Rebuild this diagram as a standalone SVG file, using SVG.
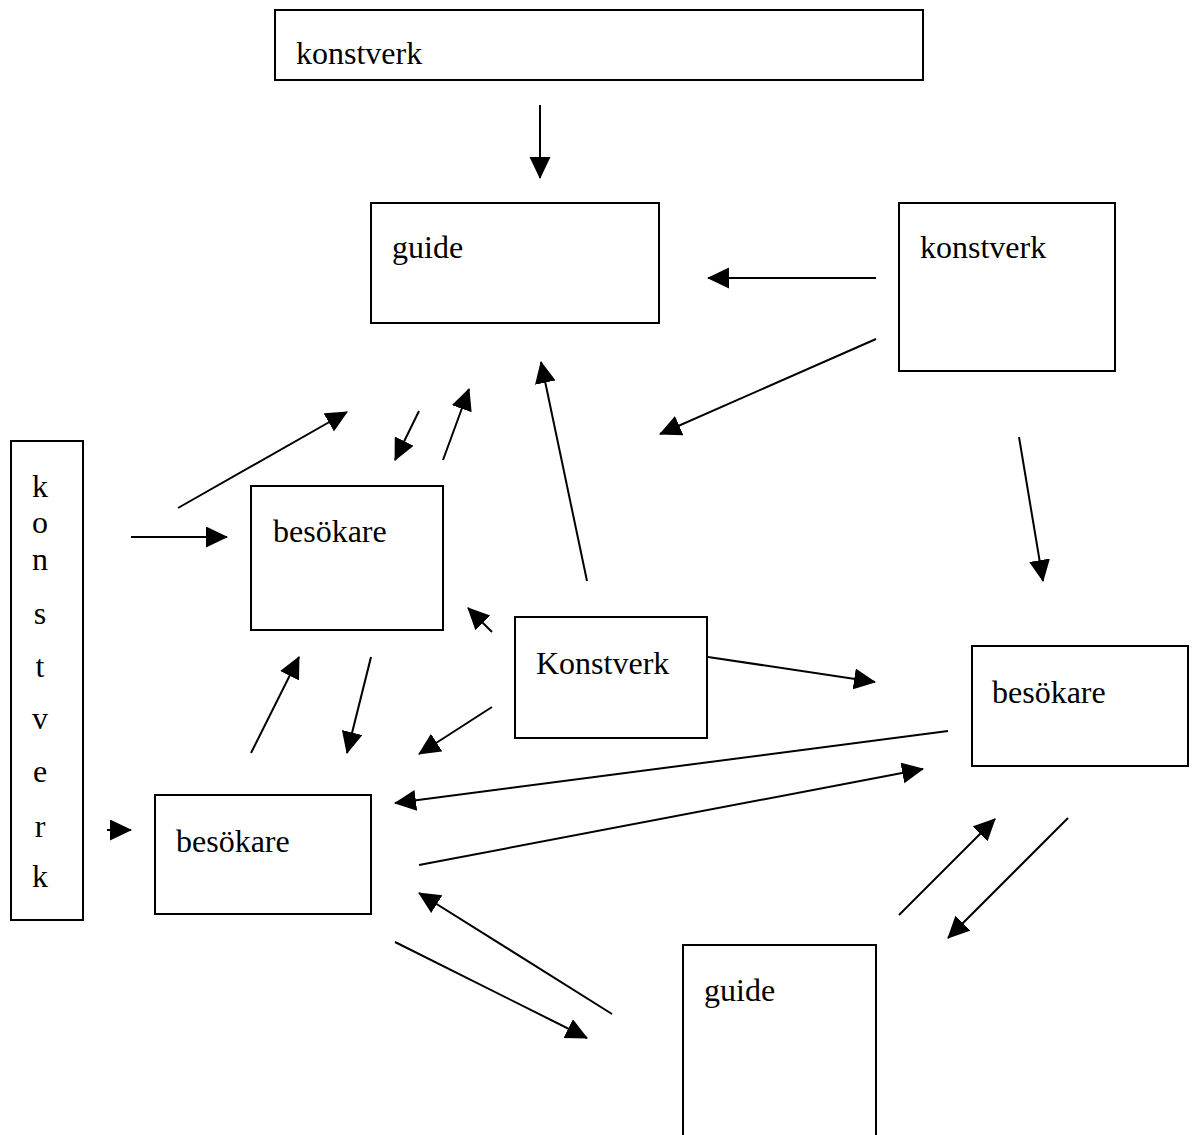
<svg xmlns="http://www.w3.org/2000/svg" width="1192" height="1135" viewBox="0 0 1192 1135">
<style>
.box{fill:#fff;stroke:#000;stroke-width:2}
.t{font-family:'Liberation Serif','Times New Roman',Times,serif;font-size:32px;fill:#000}
.c line{stroke:#000;stroke-width:2;marker-end:url(#ah)}
</style>
<defs>
<marker id="ah" markerUnits="userSpaceOnUse" markerWidth="23" markerHeight="22" refX="21" refY="10.5" orient="auto" viewBox="0 0 23 22">
<path d="M0,0 L22,10.5 L0,21 z" fill="#000"/>
</marker>
</defs>
<rect width="1192" height="1135" fill="#fff"/>
<g id="n-konstverk-top"><rect class="box" x="275" y="10" width="648" height="70"/><text class="t" font-family="Liberation Serif, serif" x="296" y="64">konstverk</text></g>
<g id="n-guide-top"><rect class="box" x="371" y="203" width="288" height="120"/><text class="t" font-family="Liberation Serif, serif" x="392" y="258">guide</text></g>
<g id="n-konstverk-right"><rect class="box" x="899" y="203" width="216" height="168"/><text class="t" font-family="Liberation Serif, serif" x="920" y="258">konstverk</text></g>
<g id="n-konstverk-vertical"><rect class="box" x="11" y="441" width="72" height="479"/>
<text class="t" font-family="Liberation Serif, serif" text-anchor="middle">
<tspan x="40" y="497">k</tspan><tspan x="40" y="533">o</tspan><tspan x="40" y="570">n</tspan><tspan x="40" y="624">s</tspan><tspan x="40" y="677">t</tspan><tspan x="40" y="729">v</tspan><tspan x="40" y="782">e</tspan><tspan x="40" y="837">r</tspan><tspan x="40" y="887">k</tspan>
</text></g>
<g id="n-besokare-top"><rect class="box" x="251" y="486" width="192" height="144"/><text class="t" font-family="Liberation Serif, serif" x="273" y="542">besökare</text></g>
<g id="n-konstverk-mid"><rect class="box" x="515" y="617" width="192" height="121"/><text class="t" font-family="Liberation Serif, serif" x="536" y="674">Konstverk</text></g>
<g id="n-besokare-right"><rect class="box" x="972" y="646" width="216" height="120"/><text class="t" font-family="Liberation Serif, serif" x="992" y="703">besökare</text></g>
<g id="n-besokare-left"><rect class="box" x="155" y="795" width="216" height="119"/><text class="t" font-family="Liberation Serif, serif" x="176" y="852">besökare</text></g>
<g id="n-guide-bottom"><rect class="box" x="683" y="945" width="193" height="200"/><text class="t" font-family="Liberation Serif, serif" x="704" y="1001">guide</text></g>
<g id="connectors" class="c">
<line x1="540" y1="105" x2="540" y2="178"/>
<line x1="876" y1="278" x2="708" y2="278"/>
<line x1="876" y1="339" x2="660" y2="434"/>
<line x1="1019" y1="437" x2="1043" y2="581"/>
<line x1="178" y1="508" x2="347" y2="412"/>
<line x1="131" y1="537" x2="227" y2="537"/>
<line x1="419" y1="411" x2="395" y2="460"/>
<line x1="443" y1="460" x2="469" y2="389"/>
<line x1="587" y1="581" x2="541" y2="362"/>
<line x1="492" y1="632" x2="468" y2="608"/>
<line x1="251" y1="753" x2="299" y2="657"/>
<line x1="371" y1="657" x2="347" y2="753"/>
<line x1="492" y1="707" x2="419" y2="754"/>
<line x1="708" y1="657" x2="875" y2="682"/>
<line x1="948" y1="731" x2="395" y2="803"/>
<line x1="419" y1="865" x2="923" y2="769"/>
<line x1="395" y1="942" x2="587" y2="1038"/>
<line x1="612" y1="1014" x2="419" y2="893"/>
<line x1="899" y1="915" x2="995" y2="819"/>
<line x1="1068" y1="818" x2="948" y2="938"/>
<line x1="107" y1="830" x2="131" y2="830"/>
</g>
</svg>
